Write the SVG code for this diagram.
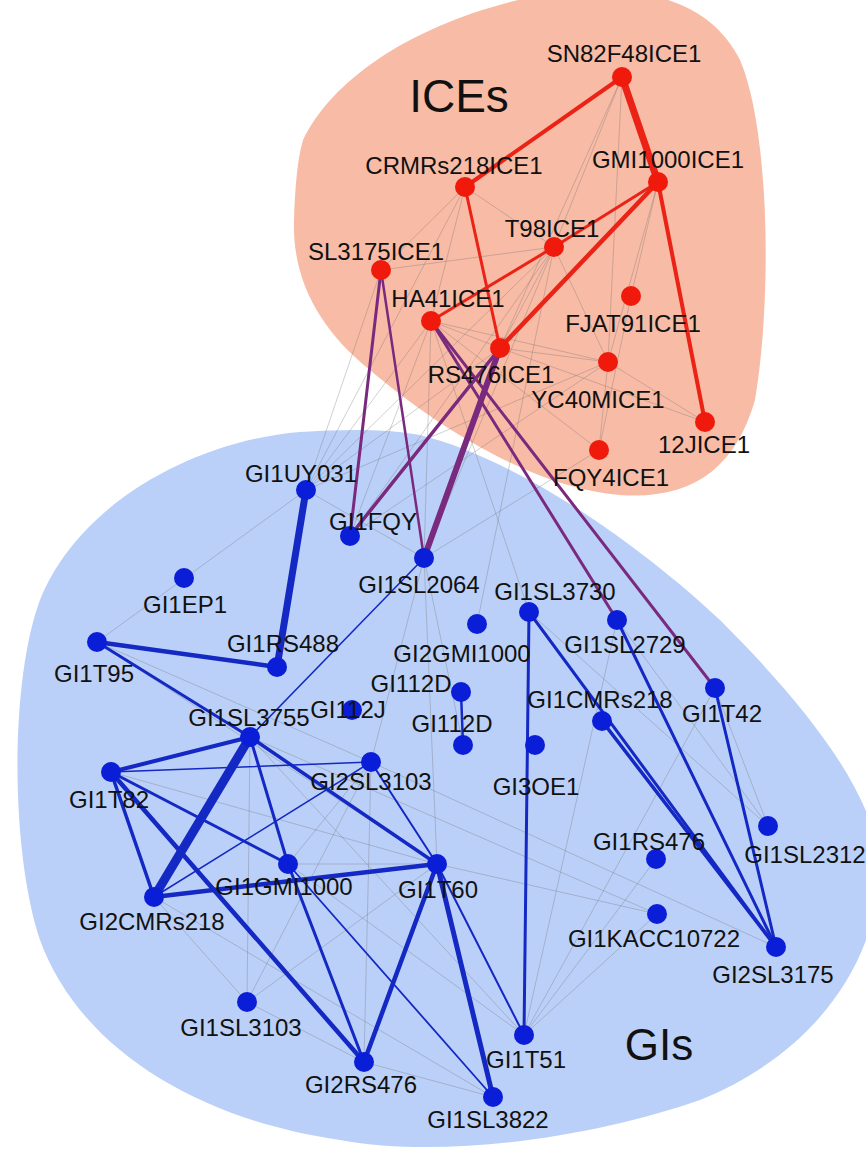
<svg xmlns="http://www.w3.org/2000/svg" width="866" height="1155" viewBox="0 0 866 1155">
<style>
text{font-family:"Liberation Sans",Arial,sans-serif;font-size:24px;fill:#111;text-anchor:middle}
.big{font-size:46px}
.gi-big{font-size:44px}
.ice{fill:#F01A0C}
.gi{fill:#0A1ED8}
.t{stroke:#707070;stroke-width:0.55;stroke-opacity:0.6;fill:none}
.r{stroke:#EB2216;fill:none;stroke-linecap:round}
.p{stroke:#7A2A7E;fill:none;stroke-linecap:round}
.b{stroke:#1428C4;fill:none;stroke-linecap:round}
</style>
<rect width="866" height="1155" fill="#ffffff"/>
<g id="regions">
<path id="ice-region" d="M303,140 C335,75 420,20 540,-5 C640,-20 710,0 740,60 C770,130 772,300 755,400 C735,470 690,500 620,495 C540,490 440,430 370,370 C320,330 292,280 294,220 C295,190 297,160 303,140 Z" fill="#F8BBA5"/>
<path id="gi-region" d="M300,432 C200,440 80,500 40,600 C10,680 10,850 40,940 C80,1050 200,1120 340,1140 C450,1160 600,1135 700,1100 C800,1060 870,980 880,880 C885,800 800,700 720,620 C640,545 520,460 420,435 C380,428 340,430 300,432 Z" fill="#BBD0F8"/>
<text x="459" y="112" class="big">ICEs</text>
<text x="659" y="1060" class="gi-big">GIs</text>
</g>
<g id="connectors">
<!-- thin ICE internal -->
<line class="t" x1="622" y1="77" x2="554" y2="247"/>
<line class="t" x1="622" y1="77" x2="608" y2="362"/>
<line class="t" x1="622" y1="77" x2="500" y2="348"/>
<line class="t" x1="465" y1="187" x2="554" y2="247"/>
<line class="t" x1="465" y1="187" x2="381" y2="270"/>
<line class="t" x1="465" y1="187" x2="431" y2="321"/>
<line class="t" x1="658" y1="182" x2="631" y2="296"/>
<line class="t" x1="658" y1="182" x2="608" y2="362"/>
<line class="t" x1="554" y1="247" x2="608" y2="362"/>
<line class="t" x1="554" y1="247" x2="500" y2="348"/>
<line class="t" x1="554" y1="247" x2="381" y2="270"/>
<line class="t" x1="431" y1="321" x2="500" y2="348"/>
<line class="t" x1="431" y1="321" x2="608" y2="362"/>
<line class="t" x1="500" y1="348" x2="608" y2="362"/>
<line class="t" x1="500" y1="348" x2="705" y2="422"/>
<line class="t" x1="608" y1="362" x2="599" y2="450"/>
<line class="t" x1="631" y1="296" x2="599" y2="450"/>
<line class="t" x1="608" y1="362" x2="705" y2="422"/>
<line class="t" x1="431" y1="321" x2="599" y2="450"/>
<!-- thin ICE-GI -->
<line class="t" x1="381" y1="270" x2="306" y2="490"/>
<line class="t" x1="554" y1="247" x2="306" y2="490"/>
<line class="t" x1="431" y1="321" x2="306" y2="490"/>
<line class="t" x1="500" y1="348" x2="306" y2="490"/>
<line class="t" x1="465" y1="187" x2="306" y2="490"/>
<line class="t" x1="608" y1="362" x2="306" y2="490"/>
<line class="t" x1="554" y1="247" x2="350" y2="536"/>
<line class="t" x1="431" y1="321" x2="350" y2="536"/>
<line class="t" x1="554" y1="247" x2="424" y2="558"/>
<line class="t" x1="431" y1="321" x2="424" y2="558"/>
<line class="t" x1="431" y1="321" x2="529" y2="612"/>
<line class="t" x1="554" y1="247" x2="477" y2="624"/>
<line class="t" x1="599" y1="450" x2="424" y2="558"/>
<line class="t" x1="608" y1="362" x2="350" y2="536"/>
<!-- thin GI internal -->
<line class="t" x1="306" y1="490" x2="97" y2="642"/>
<line class="t" x1="306" y1="490" x2="424" y2="558"/>
<line class="t" x1="97" y1="642" x2="371" y2="762"/>
<line class="t" x1="424" y1="558" x2="371" y2="762"/>
<line class="t" x1="424" y1="558" x2="437" y2="864"/>
<line class="t" x1="250" y1="737" x2="247" y2="1002"/>
<line class="t" x1="371" y1="762" x2="364" y2="1062"/>
<line class="t" x1="250" y1="737" x2="657" y2="914"/>
<line class="t" x1="371" y1="762" x2="776" y2="947"/>
<line class="t" x1="437" y1="864" x2="657" y2="914"/>
<line class="t" x1="617" y1="620" x2="524" y2="1035"/>
<line class="t" x1="715" y1="688" x2="524" y2="1035"/>
<line class="t" x1="617" y1="620" x2="768" y2="826"/>
<line class="t" x1="715" y1="688" x2="768" y2="826"/>
<line class="t" x1="529" y1="612" x2="768" y2="826"/>
<line class="t" x1="524" y1="1035" x2="657" y2="914"/>
<line class="t" x1="524" y1="1035" x2="656" y2="859"/>
<line class="t" x1="247" y1="1002" x2="371" y2="762"/>
<line class="t" x1="247" y1="1002" x2="437" y2="864"/>
<line class="t" x1="247" y1="1002" x2="154" y2="897"/>
<line class="t" x1="247" y1="1002" x2="364" y2="1062"/>
<line class="t" x1="364" y1="1062" x2="493" y2="1097"/>
<line class="t" x1="154" y1="897" x2="493" y2="1097"/>
<line class="t" x1="288" y1="864" x2="371" y2="762"/>
<line class="t" x1="288" y1="864" x2="524" y2="1035"/>
<line class="t" x1="111" y1="772" x2="437" y2="864"/>
<line class="t" x1="250" y1="737" x2="524" y2="1035"/>
<line class="t" x1="97" y1="642" x2="437" y2="864"/>
<line class="t" x1="288" y1="864" x2="437" y2="864"/>
<line class="t" x1="463" y1="745" x2="424" y2="558"/>
<!-- red ICE edges -->
<line class="r" stroke-width="4" x1="622" y1="77" x2="465" y2="187"/>
<line class="r" stroke-width="7" x1="622" y1="77" x2="658" y2="182"/>
<line class="r" stroke-width="3" x1="465" y1="187" x2="500" y2="348"/>
<line class="r" stroke-width="3" x1="658" y1="182" x2="554" y2="247"/>
<line class="r" stroke-width="3" x1="554" y1="247" x2="431" y2="321"/>
<line class="r" stroke-width="4.5" x1="658" y1="182" x2="500" y2="348"/>
<line class="r" stroke-width="4" x1="658" y1="182" x2="705" y2="422"/>
<!-- purple ICE-GI edges -->
<line class="p" stroke-width="3" x1="381" y1="270" x2="350" y2="536"/>
<line class="p" stroke-width="2.5" x1="381" y1="270" x2="424" y2="558"/>
<line class="p" stroke-width="3.5" x1="500" y1="348" x2="350" y2="536"/>
<line class="p" stroke-width="6" x1="500" y1="348" x2="424" y2="558"/>
<line class="p" stroke-width="3" x1="431" y1="321" x2="617" y2="620"/>
<line class="p" stroke-width="3" x1="431" y1="321" x2="715" y2="688"/>
<!-- blue GI edges -->
<line class="b" stroke-width="7" x1="306" y1="490" x2="277" y2="667"/>
<line class="b" stroke-width="4.5" x1="97" y1="642" x2="277" y2="667"/>
<line class="b" stroke-width="3" x1="97" y1="642" x2="250" y2="737"/>
<line class="b" stroke-width="1.5" x1="424" y1="558" x2="250" y2="737"/>
<line class="b" stroke-width="2.5" x1="461" y1="692" x2="463" y2="745"/>
<line class="b" stroke-width="3" x1="529" y1="612" x2="524" y2="1035"/>
<line class="b" stroke-width="3" x1="529" y1="612" x2="776" y2="947"/>
<line class="b" stroke-width="3" x1="617" y1="620" x2="776" y2="947"/>
<line class="b" stroke-width="3" x1="715" y1="688" x2="776" y2="947"/>
<line class="b" stroke-width="3.5" x1="602" y1="721" x2="776" y2="947"/>
<line class="b" stroke-width="4" x1="250" y1="737" x2="111" y2="772"/>
<line class="b" stroke-width="9" x1="250" y1="737" x2="154" y2="897"/>
<line class="b" stroke-width="3" x1="250" y1="737" x2="288" y2="864"/>
<line class="b" stroke-width="3.5" x1="250" y1="737" x2="437" y2="864"/>
<line class="b" stroke-width="1.5" x1="111" y1="772" x2="371" y2="762"/>
<line class="b" stroke-width="3" x1="111" y1="772" x2="288" y2="864"/>
<line class="b" stroke-width="3.5" x1="111" y1="772" x2="154" y2="897"/>
<line class="b" stroke-width="4.5" x1="111" y1="772" x2="364" y2="1062"/>
<line class="b" stroke-width="4.5" x1="154" y1="897" x2="437" y2="864"/>
<line class="b" stroke-width="1.5" x1="154" y1="897" x2="371" y2="762"/>
<line class="b" stroke-width="2" x1="371" y1="762" x2="437" y2="864"/>
<line class="b" stroke-width="3" x1="288" y1="864" x2="364" y2="1062"/>
<line class="b" stroke-width="1.8" x1="288" y1="864" x2="493" y2="1097"/>
<line class="b" stroke-width="4.5" x1="437" y1="864" x2="364" y2="1062"/>
<line class="b" stroke-width="5" x1="437" y1="864" x2="493" y2="1097"/>
<line class="b" stroke-width="2" x1="437" y1="864" x2="524" y2="1035"/>
</g>
<g id="SN82F48ICE1"><circle class="ice" cx="622" cy="77" r="10"/><text x="624" y="62">SN82F48ICE1</text></g>
<g id="CRMRs218ICE1"><circle class="ice" cx="465" cy="187" r="10"/><text x="454" y="174">CRMRs218ICE1</text></g>
<g id="GMI1000ICE1"><circle class="ice" cx="658" cy="182" r="10"/><text x="668" y="168">GMI1000ICE1</text></g>
<g id="T98ICE1"><circle class="ice" cx="554" cy="247" r="10"/><text x="552" y="237">T98ICE1</text></g>
<g id="SL3175ICE1"><circle class="ice" cx="381" cy="270" r="10"/><text x="376" y="260">SL3175ICE1</text></g>
<g id="HA41ICE1"><circle class="ice" cx="431" cy="321" r="10"/><text x="448" y="307">HA41ICE1</text></g>
<g id="FJAT91ICE1"><circle class="ice" cx="631" cy="296" r="10"/><text x="633" y="332">FJAT91ICE1</text></g>
<g id="RS476ICE1"><circle class="ice" cx="500" cy="348" r="10"/><text x="491" y="383">RS476ICE1</text></g>
<g id="YC40MICE1"><circle class="ice" cx="608" cy="362" r="10"/><text x="598" y="408">YC40MICE1</text></g>
<g id="12JICE1"><circle class="ice" cx="705" cy="422" r="10"/><text x="704" y="453">12JICE1</text></g>
<g id="FQY4ICE1"><circle class="ice" cx="599" cy="450" r="10"/><text x="611" y="486">FQY4ICE1</text></g>
<g id="GI1UY031"><circle class="gi" cx="306" cy="490" r="10"/><text x="301" y="482">GI1UY031</text></g>
<g id="GI1FQY"><circle class="gi" cx="350" cy="536" r="10"/><text x="373" y="530">GI1FQY</text></g>
<g id="GI1SL2064"><circle class="gi" cx="424" cy="558" r="10"/><text x="419" y="593">GI1SL2064</text></g>
<g id="GI1EP1"><circle class="gi" cx="184" cy="578" r="10"/><text x="185" y="613">GI1EP1</text></g>
<g id="GI1T95"><circle class="gi" cx="97" cy="642" r="10"/><text x="94" y="682">GI1T95</text></g>
<g id="GI1RS488"><circle class="gi" cx="277" cy="667" r="10"/><text x="283" y="652">GI1RS488</text></g>
<g id="GI1SL3730"><circle class="gi" cx="529" cy="612" r="10"/><text x="555" y="600">GI1SL3730</text></g>
<g id="GI2GMI1000"><circle class="gi" cx="477" cy="624" r="10"/><text x="462" y="662">GI2GMI1000</text></g>
<g id="GI1SL2729"><circle class="gi" cx="617" cy="620" r="10"/><text x="625" y="653">GI1SL2729</text></g>
<g id="GI112D-1"><circle class="gi" cx="461" cy="692" r="10"/><text x="411" y="692">GI112D</text></g>
<g id="GI112D-2"><circle class="gi" cx="463" cy="745" r="10"/><text x="452" y="732">GI112D</text></g>
<g id="GI112J"><circle class="gi" cx="352" cy="710" r="10"/><text x="348" y="718">GI112J</text></g>
<g id="GI3OE1"><circle class="gi" cx="535" cy="745" r="10"/><text x="536" y="795">GI3OE1</text></g>
<g id="GI1CMRs218"><circle class="gi" cx="602" cy="721" r="10"/><text x="600" y="708">GI1CMRs218</text></g>
<g id="GI1T42"><circle class="gi" cx="715" cy="688" r="10"/><text x="722" y="722">GI1T42</text></g>
<g id="GI1SL2312"><circle class="gi" cx="768" cy="826" r="10"/><text x="805" y="863">GI1SL2312</text></g>
<g id="GI1RS476"><circle class="gi" cx="656" cy="859" r="10"/><text x="649" y="850">GI1RS476</text></g>
<g id="GI1KACC10722"><circle class="gi" cx="657" cy="914" r="10"/><text x="654" y="947">GI1KACC10722</text></g>
<g id="GI2SL3175"><circle class="gi" cx="776" cy="947" r="10"/><text x="773" y="983">GI2SL3175</text></g>
<g id="GI1SL3755"><circle class="gi" cx="250" cy="737" r="10"/><text x="249" y="726">GI1SL3755</text></g>
<g id="GI2SL3103"><circle class="gi" cx="371" cy="762" r="10"/><text x="371" y="790">GI2SL3103</text></g>
<g id="GI1T82"><circle class="gi" cx="111" cy="772" r="10"/><text x="109" y="808">GI1T82</text></g>
<g id="GI1GMI1000"><circle class="gi" cx="288" cy="864" r="10"/><text x="284" y="895">GI1GMI1000</text></g>
<g id="GI1T60"><circle class="gi" cx="437" cy="864" r="10"/><text x="438" y="898">GI1T60</text></g>
<g id="GI2CMRs218"><circle class="gi" cx="154" cy="897" r="10"/><text x="152" y="930">GI2CMRs218</text></g>
<g id="GI1SL3103"><circle class="gi" cx="247" cy="1002" r="10"/><text x="241" y="1036">GI1SL3103</text></g>
<g id="GI2RS476"><circle class="gi" cx="364" cy="1062" r="10"/><text x="361" y="1093">GI2RS476</text></g>
<g id="GI1SL3822"><circle class="gi" cx="493" cy="1097" r="10"/><text x="488" y="1128">GI1SL3822</text></g>
<g id="GI1T51"><circle class="gi" cx="524" cy="1035" r="10"/><text x="526" y="1068">GI1T51</text></g>
</svg>
